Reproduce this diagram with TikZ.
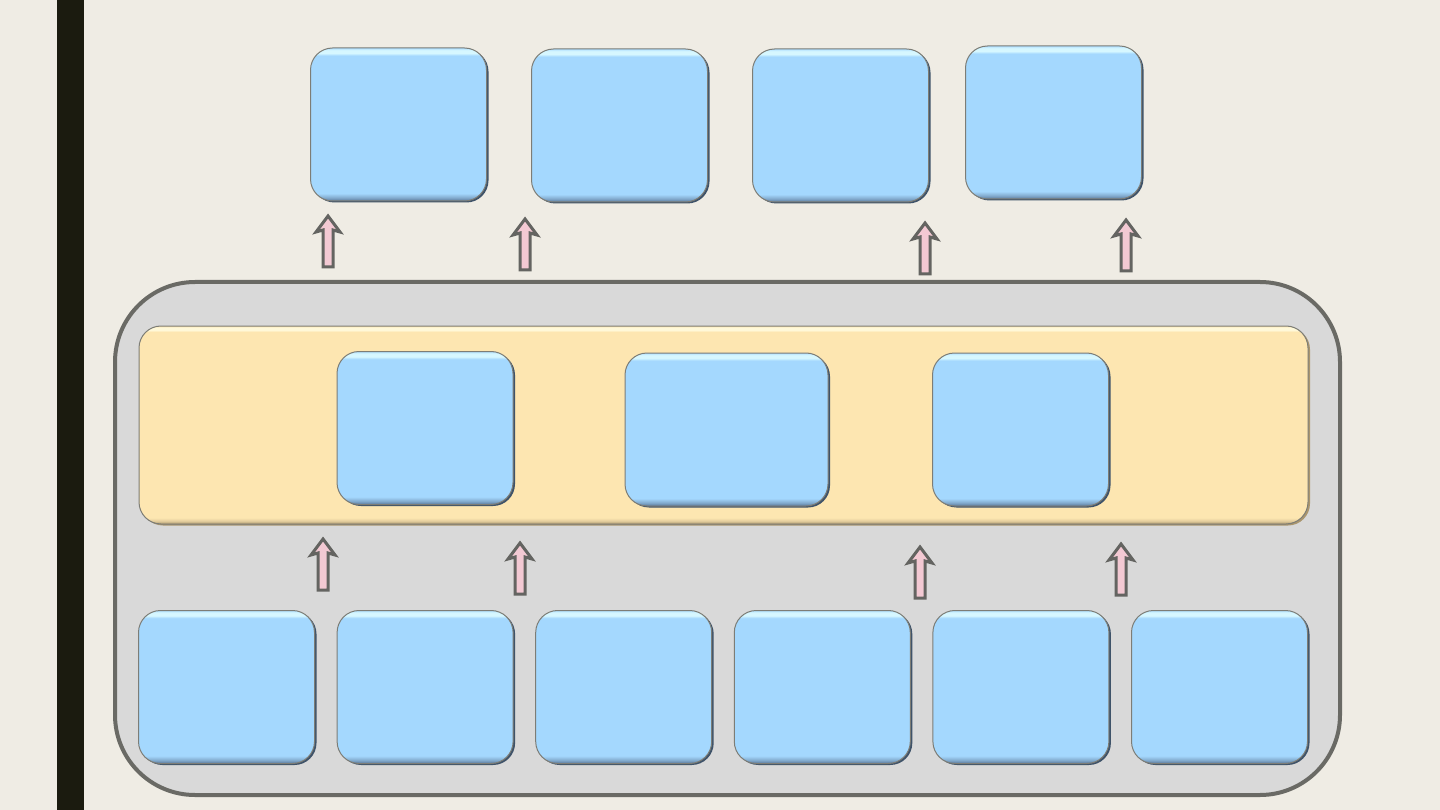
\documentclass[tikz,border=0pt]{standalone}
\usepackage{tikz}
\usetikzlibrary{positioning}
\definecolor{paper}{RGB}{239,236,228}
\definecolor{sidebar}{RGB}{27,27,15}
\definecolor{framefill}{RGB}{217,217,217}
\definecolor{framedraw}{RGB}{106,106,101}
\definecolor{tilefill}{RGB}{164,216,254}
\definecolor{tilelight}{RGB}{214,247,255}
\definecolor{tiledark}{RGB}{90,118,150}
\definecolor{tileedge}{RGB}{125,125,118}
\definecolor{bandfill}{RGB}{253,230,177}
\definecolor{bandlight}{RGB}{255,249,218}
\definecolor{banddark}{RGB}{170,150,110}
\definecolor{arrowfill}{RGB}{243,201,211}
\definecolor{arrowdraw}{RGB}{100,100,97}
\pgfdeclareverticalshading{tileshade}{100bp}{color(0bp)=(tiledark); color(25bp)=(tiledark); color(26bp)=(tilefill!50!tiledark); color(27.5bp)=(tilefill); color(72.5bp)=(tilefill); color(73.3bp)=(tilelight); color(74.3bp)=(tilelight); color(75bp)=(tilefill!80!tilelight); color(100bp)=(tilefill)}
\pgfdeclareverticalshading{bandshade}{100bp}{color(0bp)=(banddark); color(25bp)=(banddark); color(25.8bp)=(bandfill!70!banddark); color(26.6bp)=(bandfill); color(73.5bp)=(bandfill); color(74bp)=(bandlight); color(74.6bp)=(bandlight); color(75bp)=(bandfill); color(100bp)=(bandfill)}
\tikzset{
  uparrow/.pic={
    \draw[arrowdraw,fill=arrowfill,line width=3pt,line join=miter]
      (-5,0) -- (-5,-37) -- (-12,-35) -- (0,-51) -- (12,-35) -- (5,-37) -- (5,0) -- cycle;
  }
}

\begin{document}
\begin{tikzpicture}[x=1pt,y=-1pt]
\tikzstyle{tile}=[draw=tileedge,line width=1pt,rounded corners=22pt,shading=tileshade,inner sep=0pt,minimum width=176pt,minimum height=153pt,preaction={fill=tiledark!70!black,transform canvas={shift={(2pt,-1.5pt)}}}]
\tikzstyle{band}=[draw=tileedge,line width=1pt,rounded corners=22pt,shading=bandshade,inner sep=0pt,minimum width=1169pt,minimum height=198pt,preaction={fill=banddark,transform canvas={shift={(2pt,-1.5pt)}}}]
\tikzstyle{frame}=[draw=framedraw,fill=framefill,line width=4pt,rounded corners=80pt,inner sep=0pt,minimum width=1225pt,minimum height=513pt]
\useasboundingbox (0,0) rectangle (1440,810);
\fill[paper] (0,0) rectangle (1440,810);
\fill[sidebar] (57,0) rectangle (84,810);
% container and band
\node[frame] (frame) at (727.5,538.5) {};
\node[band] (band) at (723.5,425) {};
% bottom row
\node[tile] (in1) at (226.5,687) {};
\node[tile, right=21.6pt of in1] (in2) {};
\node[tile, right=21.6pt of in2] (in3) {};
\node[tile, right=21.6pt of in3] (in4) {};
\node[tile, right=21.6pt of in4] (in5) {};
\node[tile, right=21.6pt of in5] (in6) {};
% inside the band
\node[tile] (mid1) at (425,428) {};
\node[tile, minimum width=203pt] (mid2) at (726.5,429.5) {};
\node[tile] (mid3) at (1020.5,429.5) {};
% top row
\node[tile] (out1) at (398.5,124.5) {};
\node[tile, right=44pt of out1, yshift=-1pt] (out2) {};
\node[tile, right=44pt of out2] (out3) {};
\node[tile, right=36pt of out3, yshift=3pt] (out4) {};
% arrows
\pic (up1) at (328,267) {uparrow};
\pic (up2) at (525,270) {uparrow};
\pic (up3) at (925,274) {uparrow};
\pic (up4) at (1126,271) {uparrow};
\pic (up5) at (323,590) {uparrow};
\pic (up6) at (520,594) {uparrow};
\pic (up7) at (920,598) {uparrow};
\pic (up8) at (1121,595) {uparrow};
\end{tikzpicture}
\end{document}
